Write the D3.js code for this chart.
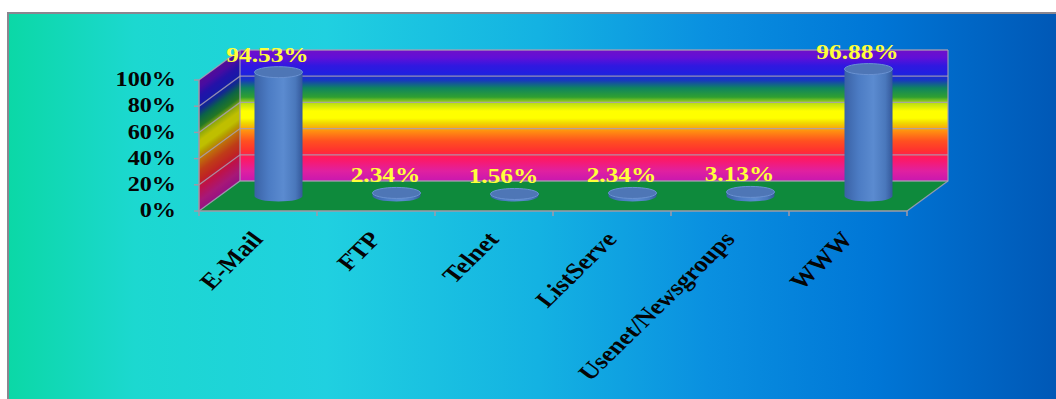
<!DOCTYPE html>
<html>
<head>
<meta charset="utf-8">
<script src="https://cdn.jsdelivr.net/npm/d3@7"></script>
<style>
  html, body { margin: 0; padding: 0; background: #ffffff; }
  svg { display: block; }
</style>
</head>
<body>
<svg id="chart" width="1056" height="399"></svg>
<script>
// Internet services usage share
const categories = ["E-Mail", "FTP", "Telnet", "ListServe", "Usenet/Newsgroups", "WWW"];
const percents = [94.53, 2.34, 1.56, 2.34, 3.13, 96.88];
const tickValues = [0, 20, 40, 60, 80, 100];
const tickLabels = ["0%", "20%", "40%", "60%", "80%", "100%"];

const svg = d3.select("#chart");
const defs = svg.append("defs");

// plot geometry (front face of the 3D box, plus depth offset)
const x0 = 199, x1 = 907, yFloor = 211, yTop = 80;
const depthX = 41, depthY = -30;
const stretch = 1.18; // horizontal widening of glyphs

const x = d3.scaleBand().domain(categories).range([x0, x1]).padding(0);
const y = d3.scaleLinear().domain([0, 100]).range([yFloor, yTop]);

// background gradient
const bg = defs.append("linearGradient").attr("id", "bg")
  .attr("x1", 0).attr("x2", 1).attr("y1", 0).attr("y2", 0);
[[0, "#0bd8a6"], [0.12, "#1cd8d0"], [0.3, "#20d0e0"], [0.5, "#14b2e2"],
 [0.66, "#0a90e0"], [0.82, "#0076d6"], [1, "#0056b4"]]
  .forEach(([o, c]) => bg.append("stop").attr("offset", o).attr("stop-color", c));

svg.append("rect").attr("x", 8).attr("y", 13).attr("width", 1060).attr("height", 400)
  .attr("fill", "url(#bg)").attr("stroke", "#8a8690").attr("stroke-width", 2);

// rainbow used on the walls
const rainbowStops = [[0, "#7010c8"], [0.06, "#6010d8"], [0.12, "#3018e0"], [0.18, "#2020e0"],
  [0.23, "#1838c0"], [0.29, "#0f8460"], [0.36, "#30a030"], [0.41, "#c0e010"], [0.466, "#ffff00"],
  [0.52, "#ffff00"], [0.557, "#f0d800"], [0.618, "#ff9010"], [0.695, "#ff5020"], [0.77, "#ff3030"],
  [0.824, "#ff1860"], [0.924, "#e020a0"], [1, "#c818b0"]];
const backTop = y(100) + depthY, backBottom = yFloor + depthY;

const rbBack = defs.append("linearGradient").attr("id", "rbBack")
  .attr("gradientUnits", "userSpaceOnUse")
  .attr("x1", 0).attr("x2", 0).attr("y1", backTop).attr("y2", backBottom);
rainbowStops.forEach(([o, c]) => rbBack.append("stop").attr("offset", o).attr("stop-color", c));

const slope = depthY / depthX;
const skewDeg = Math.atan(slope) * 180 / Math.PI;
const rbSide = defs.append("linearGradient").attr("id", "rbSide")
  .attr("gradientUnits", "userSpaceOnUse")
  .attr("x1", 0).attr("x2", 0).attr("y1", backTop).attr("y2", backBottom)
  .attr("gradientTransform", `translate(0,${-slope * (x0 + depthX)}) skewY(${skewDeg})`);
rainbowStops.forEach(([o, c]) => rbSide.append("stop").attr("offset", o).attr("stop-color", c));

// back wall
svg.append("rect")
  .attr("x", x0 + depthX).attr("y", backTop)
  .attr("width", x1 - x0).attr("height", backBottom - backTop)
  .attr("fill", "url(#rbBack)");

// side wall
const sidePts = [[x0, yFloor], [x0, y(100)], [x0 + depthX, backTop], [x0 + depthX, backBottom]];
svg.append("polygon").attr("points", sidePts.map(p => p.join(",")).join(" "))
  .attr("fill", "url(#rbSide)");
svg.append("polygon").attr("points", sidePts.map(p => p.join(",")).join(" "))
  .attr("fill", "#000").attr("opacity", 0.25);

// floor
const floorPts = [[x0, yFloor], [x1, yFloor], [x1 + depthX, backBottom], [x0 + depthX, backBottom]];
svg.append("polygon").attr("points", floorPts.map(p => p.join(",")).join(" "))
  .attr("fill", "#0e8a3c");

// gridlines on side and back walls
const gridColor = "#a8a0b4";
const grid = svg.append("g").attr("stroke", gridColor).attr("stroke-width", 1.3)
  .attr("stroke-opacity", 0.85).attr("fill", "none");
tickValues.forEach(v => {
  const yy = y(v);
  grid.append("path").attr("d",
    `M${x0},${yy} L${x0 + depthX},${yy + depthY} L${x1 + depthX},${yy + depthY}`);
});
grid.append("path").attr("d",
  `M${x0 + depthX},${backTop} L${x0 + depthX},${backBottom}`);
grid.append("path").attr("d",
  `M${x1 + depthX},${backTop} L${x1 + depthX},${backBottom} L${x1},${yFloor}`);

// axes lines and ticks
const axisColor = "#a09aa8";
svg.append("path").attr("d", `M${x0},${y(100)} L${x0},${yFloor} L${x1},${yFloor}`)
  .attr("stroke", axisColor).attr("stroke-width", 1.5).attr("fill", "none");
svg.append("g").selectAll("line").data(tickValues).join("line")
  .attr("x1", x0 - 5).attr("x2", x0).attr("y1", d => y(d)).attr("y2", d => y(d))
  .attr("stroke", axisColor).attr("stroke-width", 1.5);
const bounds = categories.map(c => x(c)).concat([x1]);
svg.append("g").selectAll("line").data(bounds).join("line")
  .attr("x1", d => d).attr("x2", d => d).attr("y1", yFloor).attr("y2", yFloor + 5)
  .attr("stroke", axisColor).attr("stroke-width", 1.5);

// y tick labels
svg.append("g").selectAll("text").data(tickValues).join("text")
  .attr("transform", d => `translate(176,${y(d) + 1.5}) scale(${stretch},1)`)
  .attr("text-anchor", "end").attr("dominant-baseline", "middle")
  .attr("font-family", "'Liberation Serif', 'Times New Roman', serif")
  .attr("font-weight", "bold").attr("font-size", 20.5).attr("fill", "#050505")
  .text((d, i) => tickLabels[i]);

// x category labels
svg.append("g").selectAll("text").data(categories).join("text")
  .attr("transform", d => `translate(${x(d) + x.bandwidth() / 2 + 6},${yFloor + 29}) scale(${stretch},1) rotate(-49)`)
  .attr("text-anchor", "end")
  .attr("font-family", "'Liberation Serif', 'Times New Roman', serif")
  .attr("font-weight", "bold").attr("font-size", 22.5).attr("fill", "#050505")
  .text(d => d);

// cylinders
const rx = 24, ry = 5.5;
const cyl = defs.append("linearGradient").attr("id", "cyl")
  .attr("x1", 0).attr("x2", 1).attr("y1", 0).attr("y2", 0);
[[0, "#3a62a6"], [0.3, "#4c7cc4"], [0.6, "#5b8bd0"], [0.85, "#4a78bc"], [1, "#34589a"]]
  .forEach(([o, c]) => cyl.append("stop").attr("offset", o).attr("stop-color", c));

const data = categories.map((c, i) => ({ c, v: percents[i] }));
const bars = svg.append("g").selectAll("g").data(data).join("g");
bars.each(function (d) {
  const g = d3.select(this);
  const cx = x(d.c) + x.bandwidth() / 2 + depthX / 2;
  const bottom = y(0) + depthY / 2;
  const top = y(d.v) + depthY / 2;
  g.append("path")
    .attr("d", `M${cx - rx},${top} L${cx - rx},${bottom} A${rx},${ry} 0 0 0 ${cx + rx},${bottom} L${cx + rx},${top} Z`)
    .attr("fill", "url(#cyl)");
  g.append("ellipse").attr("cx", cx).attr("cy", top).attr("rx", rx).attr("ry", ry)
    .attr("fill", "#4e76b6").attr("stroke", "#6a92d2").attr("stroke-width", 1);
  g.append("text")
    .attr("transform", `translate(${cx - 11},${top - ry - 5}) scale(${stretch},1)`)
    .attr("text-anchor", "middle")
    .attr("font-family", "'Liberation Serif', 'Times New Roman', serif")
    .attr("font-weight", "bold").attr("font-size", 21.5).attr("fill", "#ffff3a")
    .text(d.v.toFixed(2) + "%");
});
</script>
</body>
</html>
